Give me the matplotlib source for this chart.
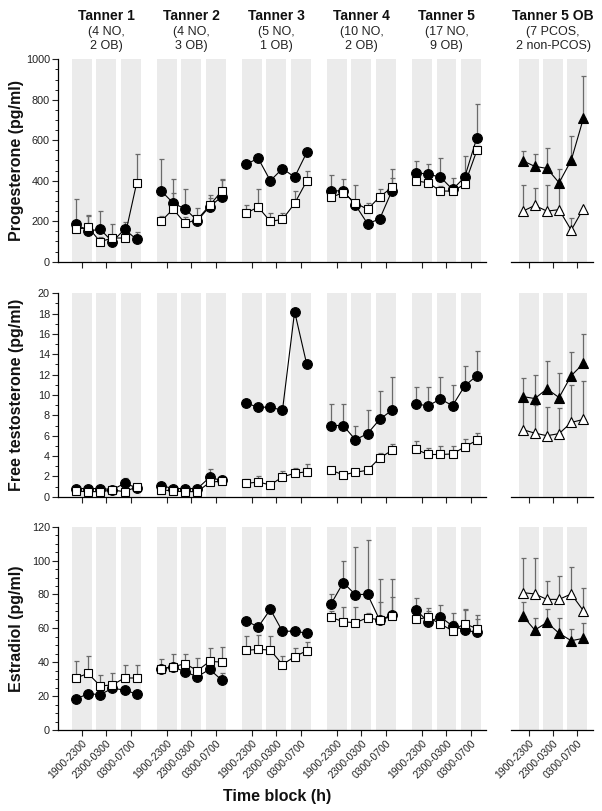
import matplotlib
matplotlib.use("Agg")
import matplotlib.pyplot as plt
import numpy as np
from matplotlib.ticker import MultipleLocator

plt.rcParams['font.family'] = ['Liberation Sans', 'DejaVu Sans']

# ---------------- data ----------------
groups = ["Tanner 1", "Tanner 2", "Tanner 3", "Tanner 4", "Tanner 5"]
group_notes = [("(4 NO,", "2 OB)"), ("(4 NO,", "3 OB)"), ("(5 NO,", "1 OB)"),
               ("(10 NO,", "2 OB)"), ("(17 NO,", "9 OB)")]
ob_title = "Tanner 5 OB"
ob_notes = ("(7 PCOS,", "2 non-PCOS)")
time_blocks = ["1900-2300", "2300-0300", "0300-0700"]
ylabels = ["Progesterone (pg/ml)", "Free testosterone (pg/ml)", "Estradiol (pg/ml)"]
xlabel = "Time block (h)"

# Progesterone (pg/ml): closed circles = OB, open squares = NO
prog_ob = [[186, 152, 160, 99, 160, 110],
           [351, 290, 260, 203, 272, 321],
           [481, 511, 400, 460, 418, 540],
           [349, 351, 280, 188, 211, 349],
           [440, 432, 418, 357, 418, 613]]
prog_ob_err = [[122, 72, 90, 86, 38, 37],
               [158, 119, 97, 64, 58, 88],
               [0, 0, 0, 0, 0, 0],
               [80, 58, 0, 20, 12, 63],
               [58, 49, 93, 55, 104, 166]]
prog_no = [[160, 170, 99, 117, 117, 389],
           [199, 260, 189, 209, 278, 349],
           [240, 270, 199, 209, 288, 399],
           [318, 341, 290, 259, 320, 367],
           [399, 390, 349, 349, 382, 550]]
prog_no_err = [[10, 60, 25, 10, 10, 141],
               [28, 78, 30, 15, 35, 55],
               [38, 87, 40, 30, 61, 49],
               [10, 20, 90, 29, 37, 91],
               [15, 15, 25, 25, 30, 20]]
prog_pcos = [499, 471, 461, 390, 501, 708]
prog_pcos_err = [50, 59, 99, 66, 120, 211]
prog_nonpcos = [249, 278, 250, 257, 156, 262]
prog_nonpcos_err = [130, 88, 129, 133, 61, 0]

# Free testosterone (pg/ml)
ft_ob = [[0.8, 0.8, 0.8, 0.7, 1.3, 0.9],
         [1.1, 0.8, 0.8, 0.8, 1.9, 1.6],
         [9.2, 8.8, 8.8, 8.5, 18.2, 13.0],
         [7.0, 7.0, 5.6, 6.2, 7.6, 8.5],
         [9.1, 8.95, 9.6, 8.95, 10.9, 11.9]]
ft_ob_err = [[0.1, 0.1, 0.1, 0.1, 0.5, 0.1],
             [0.1, 0.1, 0.1, 0.1, 0.8, 0.2],
             [0, 0, 0, 0, 0, 0],
             [2.1, 2.1, 1.4, 2.3, 2.8, 3.3],
             [1.65, 1.85, 2.2, 2.05, 2.0, 2.4]]
ft_no = [[0.55, 0.5, 0.5, 0.65, 0.5, 0.95],
         [0.7, 0.55, 0.5, 0.5, 1.4, 1.55],
         [1.3, 1.45, 1.15, 1.95, 2.3, 2.45],
         [2.6, 2.15, 2.4, 2.6, 3.8, 4.55],
         [4.65, 4.15, 4.15, 4.2, 4.9, 5.55]]
ft_no_err = [[0.1, 0.1, 0.1, 0.1, 0.1, 0.1],
             [0.1, 0.1, 0.1, 0.1, 0.2, 0.5],
             [0.4, 0.55, 0.2, 0.55, 0.5, 0.75],
             [0.2, 0.15, 0.1, 0.15, 0.5, 0.65],
             [0.85, 0.65, 0.85, 0.8, 0.8, 0.75]]
ft_pcos = [9.85, 9.65, 10.6, 9.75, 11.9, 13.1]
ft_pcos_err = [1.85, 2.35, 2.7, 2.45, 2.3, 2.9]
ft_nonpcos = [6.6, 6.25, 6.0, 6.2, 7.3, 7.6]
ft_nonpcos_err = [3.0, 2.75, 2.85, 2.5, 3.7, 3.8]

# Estradiol (pg/ml)
e2_ob = [[18.3, 21.4, 20.9, 24.6, 23.6, 21.2],
         [36.0, 37.4, 34.2, 31.5, 35.8, 29.5],
         [64.5, 60.8, 71.2, 58.2, 58.4, 57.1],
         [74.4, 87.0, 79.9, 80.1, 64.9, 67.9],
         [70.8, 63.9, 66.7, 61.4, 59.0, 57.6]]
e2_ob_err = [[0.5, 0.5, 0.5, 0.5, 0.5, 0.5],
             [1, 2, 2, 3, 5, 3.9],
             [0, 0, 0, 0, 0, 0],
             [5.9, 13, 28, 32, 10.5, 10.4],
             [7.3, 7.9, 6.9, 7.5, 12.2, 10.3]]
e2_no = [[30.7, 33.4, 26.0, 26.6, 30.7, 30.7],
         [36.0, 37.4, 39.1, 35.0, 40.5, 40.1],
         [47.0, 47.6, 47.2, 38.6, 43.3, 46.8],
         [66.5, 63.9, 63.3, 66.3, 64.9, 67.1],
         [65.3, 66.5, 62.6, 58.6, 62.8, 59.8]]
e2_no_err = [[10.2, 10.5, 6.3, 7.2, 7.5, 7.9],
             [5.9, 7.3, 6.0, 7.7, 8.1, 9.1],
             [8.3, 8.5, 8.5, 4.9, 5.1, 5.3],
             [4, 8.9, 9.5, 3, 24, 22],
             [3, 4, 6, 6, 8, 6]]
e2_pcos = [67.5, 59.0, 63.5, 57.1, 52.7, 54.1]
e2_pcos_err = [8.2, 7.3, 8.1, 8.8, 6.7, 9.1]
e2_nonpcos = [81.1, 80.3, 77.1, 77.1, 80.3, 70.4]
e2_nonpcos_err = [20.6, 21.4, 10.6, 13.6, 15.7, 13.2]

y_tops = [1000, 20, 120]
y_majors = [200, 2, 20]
y_minors = [50, 1, 5]

rows = [
    (prog_ob, prog_ob_err, prog_no, prog_no_err, prog_pcos, prog_pcos_err, prog_nonpcos, prog_nonpcos_err),
    (ft_ob, ft_ob_err, ft_no, ft_no_err, ft_pcos, ft_pcos_err, ft_nonpcos, ft_nonpcos_err),
    (e2_ob, e2_ob_err, e2_no, e2_no_err, e2_pcos, e2_pcos_err, e2_nonpcos, e2_nonpcos_err),
]

# ---------------- layout ----------------
W, H = 602, 811
fig = plt.figure(figsize=(W / 100, H / 100), dpi=100)

def rect(x0, x1, ytop, ybot):
    return [x0 / W, 1 - ybot / H, (x1 - x0) / W, (ybot - ytop) / H]

row_px = [(59.3, 261.7), (293.3, 496.7), (526.7, 730.0)]
MAIN_X = (58.3, 485.7)
OB_X = (511.0, 593.0)
PX_PER_UNIT = 24.3
GROUP_STEP = 3.5
HALF = 0.25
BAND_HALF = 0.41
main_xmin = -(82 - MAIN_X[0]) / PX_PER_UNIT
main_xmax = main_xmin + (MAIN_X[1] - MAIN_X[0]) / PX_PER_UNIT
ob_xmin = -(528.7 - OB_X[0]) / PX_PER_UNIT
ob_xmax = ob_xmin + (OB_X[1] - OB_X[0]) / PX_PER_UNIT

ERR_C = '#6a6a6a'
BAND_C = '#ebebeb'
TXT_C = '#222222'


def series(ax, xs, ys, errs, marker, face, ms):
    xs = np.asarray(xs, float); ys = np.asarray(ys, float); errs = np.asarray(errs, float)
    m = errs > 0
    if m.any():
        ax.errorbar(xs[m], ys[m], yerr=[np.zeros(m.sum()), errs[m]], fmt='none',
                    ecolor=ERR_C, elinewidth=0.9, capsize=1.8, capthick=0.9, zorder=2)
    ax.plot(xs, ys, color='black', lw=0.8, zorder=3)
    ax.plot(xs, ys, ls='none', marker=marker, ms=ms, mfc=face, mec='black', mew=0.8, zorder=4)


def point_x(offset):
    xs = []
    for k in range(3):
        c = offset + k
        xs += [c - HALF, c + HALF]
    return xs


for r, (ytop_px, ybot_px) in enumerate(row_px):
    ob, ob_err, no, no_err, pcos, pcos_err, npcos, npcos_err = rows[r]
    ax = fig.add_axes(rect(MAIN_X[0], MAIN_X[1], ytop_px, ybot_px))
    ax2 = fig.add_axes(rect(OB_X[0], OB_X[1], ytop_px, ybot_px))
    centers = []
    for g in range(len(groups)):
        off = g * GROUP_STEP
        for k in range(3):
            ax.axvspan(off + k - BAND_HALF, off + k + BAND_HALF, color=BAND_C, lw=0, zorder=0)
            centers.append(off + k)
        xs = point_x(off)
        series(ax, xs, ob[g], ob_err[g], 'o', 'black', 7)
        series(ax, xs, no[g], no_err[g], 's', 'white', 6.3)
    for k in range(3):
        ax2.axvspan(k - BAND_HALF, k + BAND_HALF, color=BAND_C, lw=0, zorder=0)
    xs = point_x(0)
    series(ax2, xs, npcos, npcos_err, '^', 'white', 7)
    series(ax2, xs, pcos, pcos_err, '^', 'black', 7)

    for a, (x0, x1) in ((ax, (main_xmin, main_xmax)), (ax2, (ob_xmin, ob_xmax))):
        a.set_xlim(x0, x1)
        a.set_ylim(0, y_tops[r])
        a.patch.set_visible(False)
        a.spines['top'].set_visible(False)
        a.spines['right'].set_visible(False)
        a.spines['bottom'].set_linewidth(0.9)
        a.tick_params(axis='x', direction='out', length=4, width=0.8, colors=TXT_C,
                      labelsize=7.5, pad=2)
    ax.set_xticks(centers)
    ax2.set_xticks([0, 1, 2])
    ax.spines['left'].set_linewidth(0.9)
    ax.yaxis.set_major_locator(MultipleLocator(y_majors[r]))
    ax.yaxis.set_minor_locator(MultipleLocator(y_minors[r]))
    ax.tick_params(axis='y', which='major', direction='out', length=4.5, width=0.8,
                   labelsize=7.8, pad=1.5, colors=TXT_C)
    ax.tick_params(axis='y', which='minor', direction='out', length=2.5, width=0.7, colors=TXT_C)
    ax2.spines['left'].set_visible(False)
    ax2.tick_params(axis='y', which='both', left=False, labelleft=False)
    if r == 2:
        ax.set_xticklabels(time_blocks * len(groups), rotation=45, ha='right',
                           rotation_mode='anchor', fontsize=7.5)
        ax2.set_xticklabels(time_blocks, rotation=45, ha='right',
                            rotation_mode='anchor', fontsize=7.5)
    else:
        ax.set_xticklabels([])
        ax2.set_xticklabels([])
    fig.text(16.7 / W, 1 - (ytop_px + ybot_px) / 2 / H, ylabels[r], rotation=90,
             ha='center', va='center', fontsize=11.5, fontweight='bold', color='#111111')

# group titles
def px_x(u, x0px, xmin):
    return x0px + (u - xmin) * PX_PER_UNIT

for g, name in enumerate(groups):
    cx = px_x(g * GROUP_STEP + 1, MAIN_X[0], main_xmin)
    fig.text(cx / W, 1 - 15.7 / H, name, ha='center', va='center', fontsize=10,
             fontweight='bold', color='#111111')
    fig.text(cx / W, 1 - 32.5 / H, group_notes[g][0], ha='center', va='center', fontsize=9, color=TXT_C)
    fig.text(cx / W, 1 - 45.5 / H, group_notes[g][1], ha='center', va='center', fontsize=9, color=TXT_C)
cx = px_x(1, OB_X[0], ob_xmin)
fig.text(cx / W, 1 - 15.7 / H, ob_title, ha='center', va='center', fontsize=10,
         fontweight='bold', color='#111111')
fig.text(cx / W, 1 - 32.5 / H, ob_notes[0], ha='center', va='center', fontsize=9, color=TXT_C)
fig.text(cx / W, 1 - 45.5 / H, ob_notes[1], ha='center', va='center', fontsize=9, color=TXT_C)

fig.text(277.5 / W, 1 - 797 / H, xlabel, ha='center', va='center', fontsize=11.5,
         fontweight='bold', color='#111111')

fig.savefig("out.png", dpi=100)
